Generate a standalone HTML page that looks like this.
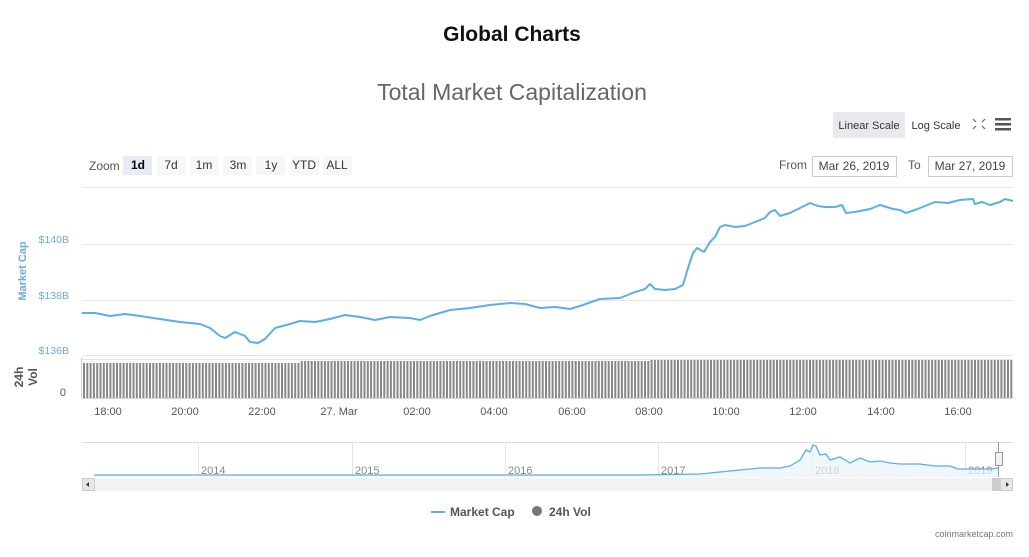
<!DOCTYPE html>
<html><head><meta charset="utf-8"><style>
body{margin:0;background:#fff;font-family:"Liberation Sans",sans-serif;}
</style></head><body>
<svg id="s" width="1029" height="552" xmlns="http://www.w3.org/2000/svg" font-family="Liberation Sans, sans-serif">
<text x="512" y="41" text-anchor="middle" font-size="21" font-weight="bold" fill="#111">Global Charts</text>
<text x="512" y="100" text-anchor="middle" font-size="23" fill="#666">Total Market Capitalization</text>
<rect x="833" y="112" width="72" height="26" fill="#e6e9ee"/>
<text x="869" y="129" font-size="11" fill="#333" text-anchor="middle">Linear Scale</text>
<text x="936" y="129" font-size="11" fill="#333" text-anchor="middle">Log Scale</text>
<g stroke="#666" stroke-width="1.2" fill="none"><path d="M973 119l3 3M985 119l-3 3M973 129l3-3M985 129l-3-3"/></g>
<g fill="#555"><rect x="995" y="118" width="16" height="2.5"/><rect x="995" y="123" width="16" height="2.5"/><rect x="995" y="128" width="16" height="2.5"/></g>
<text x="89" y="170" font-size="12" fill="#555">Zoom</text>
<rect x="123" y="156" width="29" height="19" fill="#e6ebf5"/>
<text x="138" y="169" font-size="12" font-weight="bold" text-anchor="middle" fill="#000">1d</text>
<g font-size="12" fill="#333" text-anchor="middle">
<rect x="157" y="156" width="29" height="19" fill="#f7f7f7"/><text x="171" y="169">7d</text>
<rect x="190" y="156" width="29" height="19" fill="#f7f7f7"/><text x="204" y="169">1m</text>
<rect x="223" y="156" width="29" height="19" fill="#f7f7f7"/><text x="238" y="169">3m</text>
<rect x="256" y="156" width="29" height="19" fill="#f7f7f7"/><text x="271" y="169">1y</text>
<rect x="290" y="156" width="29" height="19" fill="#f7f7f7"/><text x="304" y="169">YTD</text>
<rect x="323" y="156" width="29" height="19" fill="#f7f7f7"/><text x="337" y="169">ALL</text>
</g>
<text x="779" y="169" font-size="12" fill="#555">From</text>
<rect x="812.5" y="156.5" width="84" height="20" fill="#fff" stroke="#ccc"/>
<text x="854" y="170" font-size="12" fill="#444" text-anchor="middle">Mar 26, 2019</text>
<text x="908" y="169" font-size="12" fill="#555">To</text>
<rect x="928.5" y="156.5" width="84" height="20" fill="#fff" stroke="#ccc"/>
<text x="970" y="170" font-size="12" fill="#444" text-anchor="middle">Mar 27, 2019</text>
<g stroke="#e6e6e6" stroke-width="1">
<line x1="82" x2="1013" y1="187.5" y2="187.5"/><line x1="82" x2="1013" y1="244.5" y2="244.5"/>
<line x1="82" x2="1013" y1="300.5" y2="300.5"/><line x1="82" x2="1013" y1="355.5" y2="355.5"/>
</g>
<g font-size="10.5" fill="#6fa8dc" text-anchor="end">
<text x="69" y="243">$140B</text><text x="69" y="299">$138B</text><text x="69" y="354">$136B</text></g>
<text transform="translate(26,271) rotate(-90)" font-size="11" font-weight="bold" fill="#6fa8dc" text-anchor="middle">Market Cap</text>
<text transform="translate(23,377) rotate(-90)" font-size="12" font-weight="bold" fill="#555" text-anchor="middle">24h</text>
<text transform="translate(37,377) rotate(-90)" font-size="12" font-weight="bold" fill="#555" text-anchor="middle">Vol</text>
<text x="66" y="396" font-size="11" fill="#555" text-anchor="end">0</text>
<line x1="82" x2="1013" y1="359.5" y2="359.5" stroke="#e6e6e6"/>
<g id="bars" fill="#888"></g>
<line x1="82" x2="1013" y1="398.5" y2="398.5" stroke="#ccd6eb"/>
<line x1="81.5" x2="81.5" y1="358" y2="398" stroke="#ccd6eb"/>
<g font-size="11" fill="#555" text-anchor="middle">
<text x="108" y="415">18:00</text><text x="185" y="415">20:00</text><text x="262" y="415">22:00</text>
<text x="339" y="415">27. Mar</text><text x="417" y="415">02:00</text><text x="494" y="415">04:00</text>
<text x="572" y="415">06:00</text><text x="649" y="415">08:00</text><text x="726" y="415">10:00</text>
<text x="803" y="415">12:00</text><text x="881" y="415">14:00</text><text x="958" y="415">16:00</text></g>
<path fill="none" stroke="#5aafe6" stroke-width="2" stroke-linejoin="round" d="M82,313 95,313 110,316 125,314 140,316 160,319 180,322 200,324 210,328 220,336 225,338 235,332 245,336 250,342 258,343 265,339 275,328 290,324 300,321 315,322 330,319 345,315 360,317 375,320 390,317 410,318 420,320 430,316 450,310 470,308 490,305 510,303 525,304 540,308 555,307 570,309 580,306 600,299 620,298 635,292 645,289 650,284 655,289 665,290 675,289 683,285 688,268 693,253 697,248 704,252 710,242 715,237 720,227 725,225 735,227 745,226 755,222 765,218 770,212 775,210 780,216 790,213 800,208 810,203 818,206 825,207 835,207 842,205 846,213 855,212 870,209 880,205 893,209 900,210 906,213 915,210 925,206 935,202 948,203 960,200 973,199 975,204 982,202 990,205 1000,202 1005,199 1013,201"/>
<line x1="82" x2="1013" y1="442.5" y2="442.5" stroke="#ddd"/>
<g stroke="#e6e6e6"><line x1="198.5" x2="198.5" y1="442" y2="477"/><line x1="352.5" x2="352.5" y1="442" y2="477"/><line x1="505.5" x2="505.5" y1="442" y2="477"/><line x1="658.5" x2="658.5" y1="442" y2="477"/><line x1="812.5" x2="812.5" y1="442" y2="477"/><line x1="965.5" x2="965.5" y1="442" y2="477"/></g>
<g font-size="11" fill="#888"><text x="201" y="474">2014</text><text x="355" y="474">2015</text><text x="508" y="474">2016</text><text x="661" y="474">2017</text><text x="815" y="474">2018</text><text x="968" y="474">2019</text></g>
<path fill="#e8f3fc" fill-opacity="0.7" stroke="none" d="M94,475 L640,475 700,474 730,471 760,468 780,468 790,466 800,460 806,450 810,452 813,445 816,446 820,455 826,454 830,460 840,457 850,463 860,458 870,462 880,461 890,463 900,464 920,464 935,466 950,466 958,469 970,469 990,469 998,468 L998,477 94,477Z"/>
<path fill="none" stroke="#5aafe6" stroke-width="1.3" d="M94,475 L640,475 700,474 730,471 760,468 780,468 790,466 800,460 806,450 810,452 813,445 816,446 820,455 826,454 830,460 840,457 850,463 860,458 870,462 880,461 890,463 900,464 920,464 935,466 950,466 958,469 970,469 990,469 998,468"/>
<line x1="998.5" x2="998.5" y1="442" y2="477" stroke="#999"/>
<rect x="995.5" y="452.5" width="7" height="13" fill="#f2f2f2" stroke="#999"/>
<rect x="82" y="478" width="931" height="13" fill="#f2f2f2"/>
<rect x="992" y="478" width="8" height="13" fill="#ccc"/>
<rect x="82.5" y="478.5" width="12" height="12" fill="#e6e6e6" stroke="#ccc"/>
<path d="M86,484.5 89,482 89,487Z" fill="#333"/>
<rect x="1000.5" y="478.5" width="12" height="12" fill="#e6e6e6" stroke="#ccc"/>
<path d="M1009,484.5 1006,482 1006,487Z" fill="#333"/>
<line x1="431" x2="445" y1="512" y2="512" stroke="#5aafe6" stroke-width="2"/>
<text x="450" y="516" font-size="12" font-weight="bold" fill="#555">Market Cap</text>
<circle cx="537" cy="511" r="5" fill="#777"/>
<text x="549" y="516" font-size="12" font-weight="bold" fill="#555">24h Vol</text>
<text x="1013" y="537" font-size="9" fill="#777" text-anchor="end">coinmarketcap.com</text>
</svg>
<script>
var g=document.getElementById('bars'),h='';
for(var x=83;x<1012;x+=3.3){var t=x<300?363:(x<650?361:360);h+='<rect x="'+x.toFixed(1)+'" y="'+t+'" width="2" height="'+(398-t)+'"/>';}
g.innerHTML=h;
</script>
</body></html>
